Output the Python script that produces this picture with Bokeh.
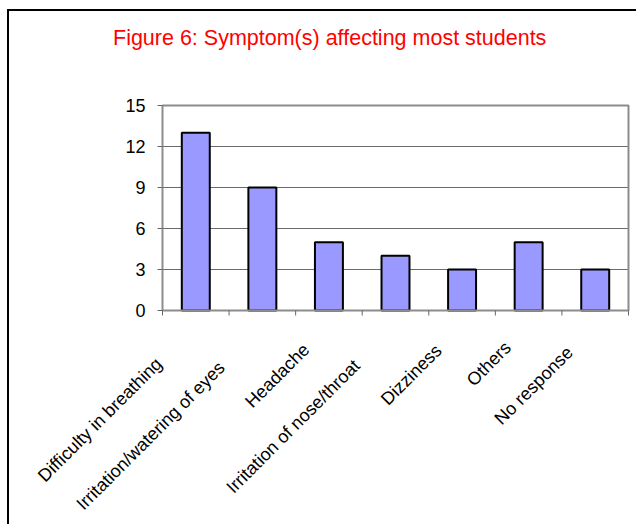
import numpy as np
from bokeh.plotting import figure
from bokeh.models import ColumnDataSource, Label, Range1d
from bokeh.core.properties import value
from bokeh.embed import file_html
from bokeh.resources import INLINE

# Survey results: number of students reporting each symptom
symptoms = ["Difficulty in breathing", "Irritation/watering of eyes", "Headache",
            "Irritation of nose/throat", "Dizziness", "Others", "No response"]
students = [13, 9, 5, 4, 3, 5, 3]
y_ticks = [0, 3, 6, 9, 12, 15]
title = "Figure 6: Symptom(s) affecting most students"

FONT = "Liberation Sans"
n = len(symptoms)
slots = np.arange(n) + 0.5
y_top = y_ticks[-1]

# Canvas geometry (px): the frame fills the whole canvas, the chart box sits inside it
W, H = 629, 515
box_left, box_right, box_top, box_bottom = 153, 619, 94, 299
px_x = (box_right - box_left) / n
px_y = (box_bottom - box_top) / y_top
x_range = Range1d(-box_left / px_x, n + (W - box_right) / px_x)
y_range = Range1d(-(H - box_bottom) / px_y, y_top + box_top / px_y)

p = figure(width=W, height=H, x_range=x_range, y_range=y_range,
           output_backend="svg", toolbar_location=None,
           min_border=0, background_fill_color="white", border_fill_color="white")
p.margin = (9, 0, 0, 7)
p.styles = {"border-left": "2px solid black", "border-top": "2px solid black"}
p.axis.visible = False
p.grid.visible = False
p.outline_line_color = None

# Horizontal gridlines
p.segment(x0=[0] * len(y_ticks), x1=[n] * len(y_ticks), y0=y_ticks, y1=y_ticks,
          line_color="#6a6a6a", line_width=1.2)

# Bars
p.vbar(x=slots, top=students, width=0.42,
       fill_color="#9999FF", line_color="black", line_width=2)

# Chart box
p.quad(left=[0], right=[n], bottom=[0], top=[y_top],
       fill_color=None, line_color="#8c8c8c", line_width=2)

# Tick marks
p.ray(x=[0] * len(y_ticks), y=y_ticks, length=5, length_units="screen",
      angle=np.pi, line_color="#666666", line_width=1)
p.ray(x=list(range(n + 1)), y=[0] * (n + 1), length=5, length_units="screen",
      angle=-np.pi / 2, line_color="#666666", line_width=1)

# Y tick labels
p.text(x=[0] * len(y_ticks), y=y_ticks, text=[str(t) for t in y_ticks],
       x_offset=-17, text_align="right", text_baseline="middle",
       text_font=value(FONT), text_font_size="18px", text_color="black")

# Slanted category names; longer names slide further down-left
shift = [10 + 0.95 * len(s) for s in symptoms]
lab_src = ColumnDataSource(dict(
    x=slots, y=[0] * n, text=symptoms,
    xo=[-(d + 5) for d in shift], yo=[18.5 + d for d in shift]))
p.text(x="x", y="y", text="text", source=lab_src,
       x_offset="xo", y_offset="yo", angle=np.pi / 4,
       text_align="right", text_baseline="alphabetic",
       text_font=value(FONT), text_font_size="18px", text_color="black")

# Title
p.add_layout(Label(x=103.5, y=H - 26, x_units="screen", y_units="screen",
                   text=title, text_color="#FF0000", text_font=FONT,
                   text_font_size="21.5px", text_align="left",
                   text_baseline="alphabetic"))

open("out.html", "w").write(file_html(p, INLINE))
